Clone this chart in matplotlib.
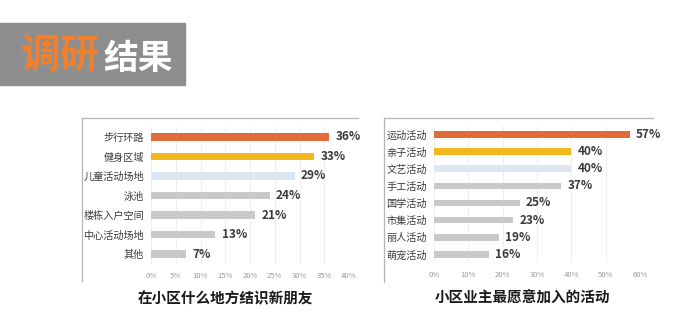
import matplotlib.pyplot as plt
from matplotlib.lines import Line2D
from matplotlib.patches import Rectangle

plt.rcParams['font.family'] = ['Noto Sans CJK SC', 'DejaVu Sans']

# left chart data
leftCats = ['步行环路', '健身区域', '儿童活动场地', '泳池', '楼栋入户空间', '中心活动场地', '其他']
leftVals = [36, 33, 29, 24, 21, 13, 7]
leftTicks = [0, 5, 10, 15, 20, 25, 30, 35, 40]
leftTitle = '在小区什么地方结识新朋友'

# right chart data
rightCats = ['运动活动', '亲子活动', '文艺活动', '手工活动', '国学活动', '市集活动', '丽人活动', '萌宠活动']
rightVals = [57, 40, 40, 37, 25, 23, 19, 16]
rightTicks = [0, 10, 20, 30, 40, 50, 60]
rightTitle = '小区业主最愿意加入的活动'

ORANGE = '#E06D38'
YELLOW = '#F2B71C'
PALE = '#DDE7F1'
GRAY = '#C9C9C9'

W, H = 694, 336
fig = plt.figure(figsize=(W / 100, H / 100), dpi=100)
fig.patch.set_facecolor('white')


def px(x0, y0, x1, y1):
    # pixel box (top-left origin) -> figure fraction rect
    return [x0 / W, 1 - y1 / H, (x1 - x0) / W, (y1 - y0) / H]


def barChart(rect, cats, vals, ticks):
    ax = fig.add_axes(rect)
    colors = [ORANGE, YELLOW, PALE] + [GRAY] * (len(cats) - 3)
    ys = list(range(len(cats)))
    ax.barh(ys, vals, height=0.38, color=colors, zorder=2)
    for y, v in zip(ys, vals):
        ax.annotate(f'{v}%', (v, y), xytext=(4.5, 0), textcoords='offset points',
                    va='center', ha='left', fontsize=8.5, fontweight='bold',
                    color='#3a3a3a', zorder=3)
    ax.set_ylim(len(cats) - 0.5, -0.5)
    ax.set_xlim(ticks[0], ticks[-1])
    ax.set_yticks(ys)
    ax.set_yticklabels(cats, fontsize=7.3, color='#3a3a3a')
    ax.set_xticks(ticks)
    ax.set_xticklabels([f'{t}%' for t in ticks], fontsize=5.5, color='#9a9a9a')
    ax.tick_params(length=0)
    ax.tick_params(axis='y', pad=5)
    ax.tick_params(axis='x', pad=6)
    ax.grid(axis='x', color='#efefef', linewidth=0.8, zorder=0)
    for s in ax.spines.values():
        s.set_visible(False)
    return ax


barChart(px(151, 127, 349, 264), leftCats, leftVals, leftTicks)
barChart(px(434, 125.7, 640, 263), rightCats, rightVals, rightTicks)

# panel frames (top and left lines)
frameColor = '#b5b5b5'
for (xl, xr, yt, yb) in [(82, 358, 118, 281), (384, 653, 118, 282)]:
    fig.add_artist(Line2D([xl / W, xr / W], [1 - yt / H, 1 - yt / H],
                          color=frameColor, linewidth=0.9))
    fig.add_artist(Line2D([xl / W, xl / W], [1 - yt / H, 1 - yb / H],
                          color=frameColor, linewidth=0.9))

# chart titles
fig.text(225 / W, 1 - 298 / H, leftTitle, ha='center', va='center',
         fontsize=10.5, fontweight='bold', color='#1a1a1a')
fig.text(522 / W, 1 - 298 / H, rightTitle, ha='center', va='center',
         fontsize=10.5, fontweight='bold', color='#1a1a1a')

# banner
fig.add_artist(Rectangle((0, 1 - 85 / H), 185 / W, 62 / H,
                         transform=fig.transFigure, color='#8e8e8e', zorder=0))
fig.text(21 / W, 1 - 56 / H, '调研', ha='left', va='center',
         fontsize=28.5, fontweight='heavy', color='#F07F2E')
fig.text(103 / W, 1 - 58 / H, '结果', ha='left', va='center',
         fontsize=25, fontweight='heavy', color='white')

fig.savefig('out.png', dpi=100)
